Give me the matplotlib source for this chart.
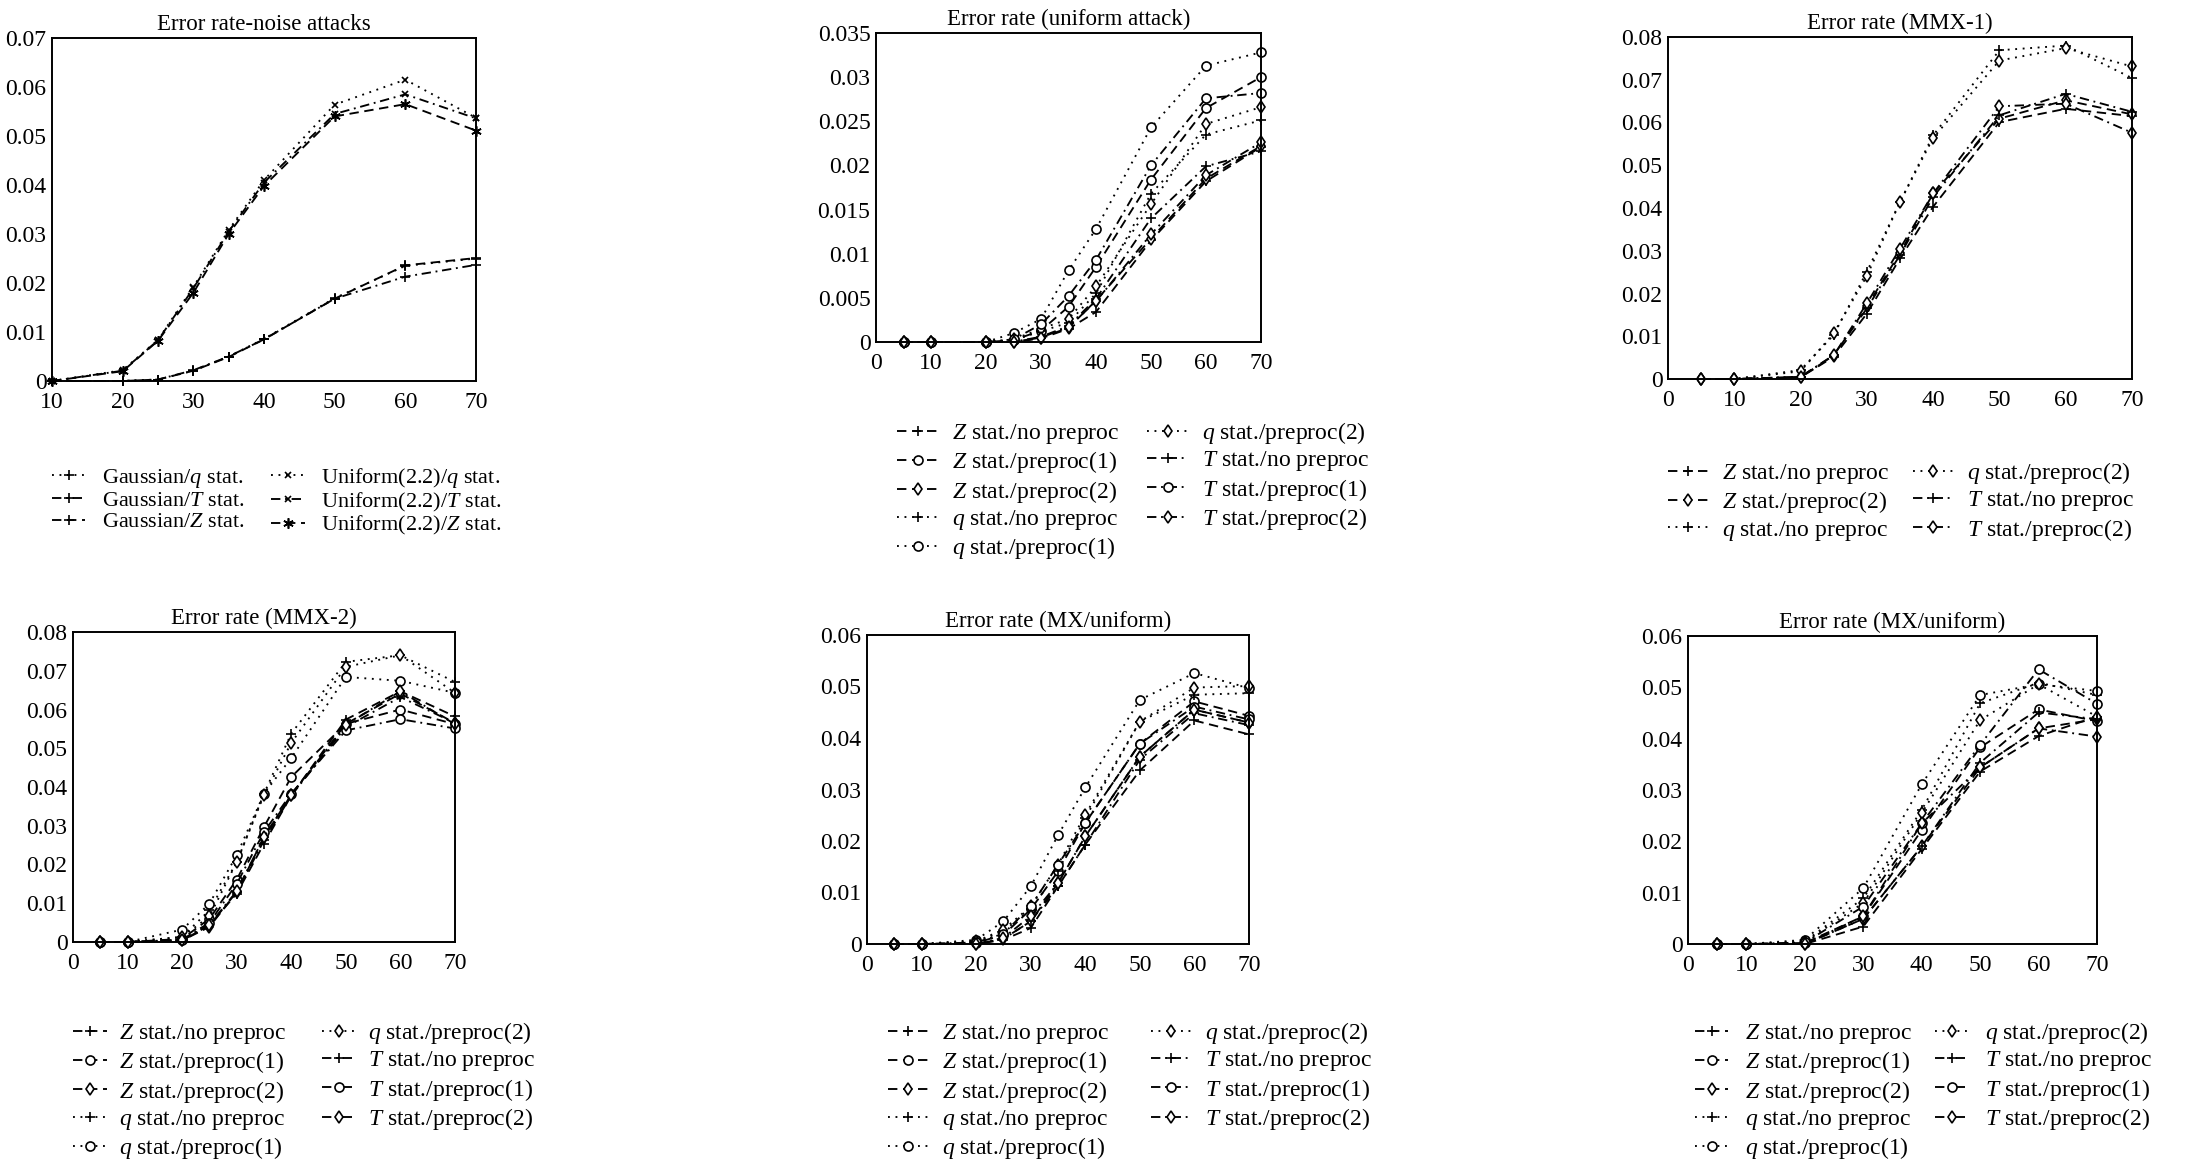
import matplotlib
matplotlib.use("Agg")
import matplotlib.pyplot as plt

plt.rcParams['font.family'] = ['Liberation Serif', 'DejaVu Serif']
plt.rcParams['mathtext.fontset'] = 'custom'
plt.rcParams['mathtext.rm'] = 'Liberation Serif'
plt.rcParams['mathtext.it'] = 'Liberation Serif:italic'
plt.rcParams['font.size'] = 16

W, H = 2196, 1163

# ---- data ----
x_noise = [10, 20, 25, 30, 35, 40, 50, 60, 70]
gauss_q = [0, 0, 0.0003, 0.0021, 0.0050, 0.0086, 0.0169, 0.0235, 0.0250]
gauss_T = [0, 0, 0.0003, 0.0022, 0.0050, 0.0085, 0.0168, 0.0213, 0.0237]
gauss_Z = [0, 0, 0.0003, 0.0021, 0.0049, 0.0085, 0.0168, 0.0236, 0.0251]
unif_q = [0, 0.0022, 0.0084, 0.0192, 0.0308, 0.0410, 0.0564, 0.0615, 0.0537]
unif_T = [0, 0.0021, 0.0083, 0.0189, 0.0305, 0.0405, 0.0545, 0.0585, 0.0536]
unif_Z = [0, 0.0020, 0.0082, 0.0180, 0.0300, 0.0398, 0.0540, 0.0565, 0.0511]

x_full = [5, 10, 20, 25, 30, 35, 40, 50, 60, 70]

# uniform attack
ua_Z_no = [0, 0, 0, 0, 0.0004, 0.0015, 0.0034, 0.0115, 0.0182, 0.0221]
ua_Z_p1 = [0, 0, 0, 0.0002, 0.0013, 0.0040, 0.0085, 0.0184, 0.0265, 0.0300]
ua_Z_p2 = [0, 0, 0, 0, 0.0005, 0.0016, 0.0047, 0.0117, 0.0185, 0.0222]
ua_q_no = [0, 0, 0, 0.0002, 0.0012, 0.0022, 0.0055, 0.0168, 0.0235, 0.0251]
ua_q_p1 = [0, 0, 0, 0.0010, 0.0026, 0.0081, 0.0128, 0.0243, 0.0313, 0.0328]
ua_q_p2 = [0, 0, 0, 0.0003, 0.0015, 0.0026, 0.0063, 0.0156, 0.0247, 0.0266]
ua_T_no = [0, 0, 0, 0, 0.0006, 0.0018, 0.0049, 0.0140, 0.0199, 0.0216]
ua_T_p1 = [0, 0, 0, 0.0003, 0.0020, 0.0052, 0.0093, 0.0200, 0.0276, 0.0282]
ua_T_p2 = [0, 0, 0, 0, 0.0005, 0.0017, 0.0046, 0.0122, 0.0189, 0.0226]

# MMX-1
m1_Z_no = [0, 0, 0.0004, 0.0052, 0.0153, 0.0282, 0.0403, 0.0601, 0.0632, 0.0615]
m1_Z_p2 = [0, 0, 0.0005, 0.0054, 0.0170, 0.0295, 0.0434, 0.0609, 0.0652, 0.0619]
m1_q_no = [0, 0, 0.0021, 0.0103, 0.0251, 0.0414, 0.0570, 0.0769, 0.0780, 0.0704]
m1_q_p2 = [0, 0, 0.0018, 0.0107, 0.0241, 0.0414, 0.0564, 0.0745, 0.0774, 0.0731]
m1_T_no = [0, 0, 0.0005, 0.0056, 0.0165, 0.0290, 0.0426, 0.0617, 0.0667, 0.0625]
m1_T_p2 = [0, 0, 0.0005, 0.0055, 0.0177, 0.0305, 0.0434, 0.0638, 0.0644, 0.0576]

# MMX-2
m2_Z_no = [0, 0, 0.0004, 0.0043, 0.0125, 0.0254, 0.0378, 0.0574, 0.0647, 0.0582]
m2_Z_p1 = [0, 0, 0.0008, 0.0060, 0.0161, 0.0297, 0.0426, 0.0563, 0.0600, 0.0562]
m2_Z_p2 = [0, 0, 0.0004, 0.0039, 0.0129, 0.0271, 0.0380, 0.0563, 0.0641, 0.0565]
m2_q_no = [0, 0, 0.0013, 0.0082, 0.0206, 0.0383, 0.0538, 0.0723, 0.0740, 0.0671]
m2_q_p1 = [0, 0, 0.0032, 0.0099, 0.0224, 0.0383, 0.0475, 0.0684, 0.0674, 0.0643]
m2_q_p2 = [0, 0, 0.0013, 0.0066, 0.0206, 0.0379, 0.0514, 0.0710, 0.0740, 0.0643]
m2_T_no = [0, 0, 0.0004, 0.0043, 0.0129, 0.0262, 0.0378, 0.0555, 0.0632, 0.0565]
m2_T_p1 = [0, 0, 0.0006, 0.0050, 0.0150, 0.0284, 0.0383, 0.0546, 0.0575, 0.0551]
m2_T_p2 = [0, 0, 0.0005, 0.0045, 0.0131, 0.0271, 0.0380, 0.0560, 0.0647, 0.0562]

# MX/uniform (first)
mx_Z_no = [0, 0, 0, 0.0008, 0.0031, 0.0112, 0.0193, 0.0337, 0.0434, 0.0407]
mx_Z_p1 = [0, 0, 0.0002, 0.0018, 0.0067, 0.0141, 0.0235, 0.0389, 0.0471, 0.0443]
mx_Z_p2 = [0, 0, 0, 0.0010, 0.0044, 0.0118, 0.0209, 0.0364, 0.0455, 0.0430]
mx_q_no = [0, 0, 0.0004, 0.0025, 0.0067, 0.0141, 0.0245, 0.0432, 0.0484, 0.0487]
mx_q_p1 = [0, 0, 0.0008, 0.0044, 0.0112, 0.0211, 0.0304, 0.0474, 0.0526, 0.0497]
mx_q_p2 = [0, 0, 0.0005, 0.0028, 0.0073, 0.0154, 0.0251, 0.0432, 0.0498, 0.0501]
mx_T_no = [0, 0, 0, 0.0010, 0.0044, 0.0112, 0.0193, 0.0358, 0.0448, 0.0425]
mx_T_p1 = [0, 0, 0.0003, 0.0020, 0.0073, 0.0154, 0.0235, 0.0389, 0.0461, 0.0436]
mx_T_p2 = [0, 0, 0, 0.0012, 0.0054, 0.0118, 0.0209, 0.0364, 0.0455, 0.0430]

# MX/uniform (second)
x_mx2 = [5, 10, 20, 30, 40, 50, 60, 70]
mx2_Z_no = [0, 0, 0, 0.0034, 0.0185, 0.0336, 0.0405, 0.0443]
mx2_Z_p1 = [0, 0, 0.0002, 0.0054, 0.0222, 0.0383, 0.0457, 0.0434]
mx2_Z_p2 = [0, 0, 0, 0.0049, 0.0190, 0.0344, 0.0420, 0.0438]
mx2_q_no = [0, 0, 0.0005, 0.0089, 0.0261, 0.0469, 0.0509, 0.0485]
mx2_q_p1 = [0, 0, 0.0008, 0.0109, 0.0311, 0.0485, 0.0506, 0.0493]
mx2_q_p2 = [0, 0, 0.0004, 0.0080, 0.0255, 0.0436, 0.0506, 0.0443]
mx2_T_no = [0, 0, 0, 0.0049, 0.0190, 0.0353, 0.0451, 0.0438]
mx2_T_p1 = [0, 0, 0.0003, 0.0073, 0.0235, 0.0388, 0.0535, 0.0468]
mx2_T_p2 = [0, 0, 0, 0.0054, 0.0235, 0.0344, 0.0420, 0.0404]

# ---- styles ----
DOT = (0, (1, 3))
DASH = (0, (5, 3))
DASHDOT = (0, (5, 2.5, 1, 2.5))
LW = 1.35

LABELS = {
    'Z_no': r'$Z$ stat./no preproc', 'Z_p1': r'$Z$ stat./preproc(1)',
    'Z_p2': r'$Z$ stat./preproc(2)', 'q_no': r'$q$ stat./no preproc',
    'q_p1': r'$q$ stat./preproc(1)', 'q_p2': r'$q$ stat./preproc(2)',
    'T_no': r'$T$ stat./no preproc', 'T_p1': r'$T$ stat./preproc(1)',
    'T_p2': r'$T$ stat./preproc(2)',
}
LS = {'Z': DASH, 'q': DOT, 'T': DASHDOT}
MK = {'no': '+', 'p1': 'o', 'p2': 'd'}


def px_rect(left, right, top, bottom):
    return [left / W, 1 - bottom / H, (right - left) / W, (bottom - top) / H]


def setup_axes(fig, rect, title, xlim, xticks, ylim, yticks):
    ax = fig.add_axes(rect)
    ax.set_xlim(*xlim)
    ax.set_ylim(*ylim)
    ax.set_xticks(xticks)
    ax.set_yticks(yticks)
    ax.set_yticklabels(['%g' % v for v in yticks])
    ax.tick_params(axis='x', length=0, pad=8, labelsize=17)
    ax.tick_params(axis='y', length=0, pad=4, labelsize=17)
    for s in ax.spines.values():
        s.set_linewidth(1.4)
    ax.set_title(title, fontsize=16.5, pad=6)
    return ax


def plot_series(ax, x, series):
    handles = []
    for key, y in series:
        stat, pre = key.split('_')
        h, = ax.plot(x, y, color='black', lw=LW, linestyle=LS[stat],
                     marker=MK[pre], markersize=6.5, markerfacecolor='white',
                     markeredgewidth=1.2, label=LABELS[key], clip_on=False)
        handles.append(h)
    return handles


def add_legend(fig, handles, left, top, size, spacing, hlen, tpad, cspace):
    fig.legend(handles=handles, loc='upper left',
               bbox_to_anchor=(left / W, 1 - top / H), ncol=2, frameon=False,
               fontsize=size, borderaxespad=0, borderpad=0, labelspacing=spacing,
               handlelength=hlen, handletextpad=tpad, columnspacing=cspace,
               numpoints=1)


fig = plt.figure(figsize=(W / 100, H / 100), dpi=100)

# panel 1: noise attacks
ax = setup_axes(fig, px_rect(52, 476, 38, 381), 'Error rate-noise attacks',
                (10, 70), [10, 20, 30, 40, 50, 60, 70],
                (0, 0.07), [0, 0.01, 0.02, 0.03, 0.04, 0.05, 0.06, 0.07])
hs = []
for y, ls, lab in [(gauss_q, DOT, r'Gaussian/$q$ stat.'),
                   (gauss_T, DASHDOT, r'Gaussian/$T$ stat.'),
                   (gauss_Z, DASH, r'Gaussian/$Z$ stat.')]:
    h, = ax.plot(x_noise, y, color='black', lw=LW, linestyle=ls, marker='+',
                 markersize=7.5, markeredgewidth=1.2, label=lab, clip_on=False)
    hs.append(h)
for y, ls, mk, ms, lab in [(unif_q, DOT, 'x', 5, r'Uniform(2.2)/$q$ stat.'),
                           (unif_T, DASHDOT, 'x', 5, r'Uniform(2.2)/$T$ stat.'),
                           (unif_Z, DASH, (6, 2, 0), 7.5, r'Uniform(2.2)/$Z$ stat.')]:
    h, = ax.plot(x_noise, y, color='black', lw=LW, linestyle=ls, marker=mk,
                 markersize=ms, markeredgewidth=1.2, label=lab, clip_on=False)
    hs.append(h)
add_legend(fig, hs, 52, 466, 16, 0.03, 1.5, 0.75, 1.2)

nine = ['Z_no', 'Z_p1', 'Z_p2', 'q_no', 'q_p1', 'q_p2', 'T_no', 'T_p1', 'T_p2']
ticks70 = [0, 10, 20, 30, 40, 50, 60, 70]

# panel 2: uniform attack
ax = setup_axes(fig, px_rect(876, 1261, 33, 342), 'Error rate (uniform attack)',
                (0, 70), ticks70, (0, 0.035),
                [0, 0.005, 0.01, 0.015, 0.02, 0.025, 0.03, 0.035])
hs = plot_series(ax, x_full, list(zip(nine, [ua_Z_no, ua_Z_p1, ua_Z_p2, ua_q_no, ua_q_p1,
                                             ua_q_p2, ua_T_no, ua_T_p1, ua_T_p2])))
add_legend(fig, hs, 897, 420, 17, 0.14, 1.75, 0.6, 1.15)

# panel 3: MMX-1
six = ['Z_no', 'Z_p2', 'q_no', 'q_p2', 'T_no', 'T_p2']
ax = setup_axes(fig, px_rect(1668, 2132, 37, 379), 'Error rate (MMX-1)',
                (0, 70), ticks70, (0, 0.08),
                [0, 0.01, 0.02, 0.03, 0.04, 0.05, 0.06, 0.07, 0.08])
hs = plot_series(ax, x_full, list(zip(six, [m1_Z_no, m1_Z_p2, m1_q_no, m1_q_p2,
                                            m1_T_no, m1_T_p2])))
add_legend(fig, hs, 1668, 460, 17, 0.14, 1.7, 0.6, 1.0)

# panel 4: MMX-2
ax = setup_axes(fig, px_rect(73, 455, 632, 942), 'Error rate (MMX-2)',
                (0, 70), ticks70, (0, 0.08),
                [0, 0.01, 0.02, 0.03, 0.04, 0.05, 0.06, 0.07, 0.08])
hs = plot_series(ax, x_full, list(zip(nine, [m2_Z_no, m2_Z_p1, m2_Z_p2, m2_q_no, m2_q_p1,
                                             m2_q_p2, m2_T_no, m2_T_p1, m2_T_p2])))
add_legend(fig, hs, 73, 1020, 17, 0.14, 1.45, 0.5, 1.5)

# panel 5: MX/uniform
ax = setup_axes(fig, px_rect(867, 1249, 635, 944), 'Error rate (MX/uniform)',
                (0, 70), ticks70, (0, 0.06),
                [0, 0.01, 0.02, 0.03, 0.04, 0.05, 0.06])
hs = plot_series(ax, x_full, list(zip(nine, [mx_Z_no, mx_Z_p1, mx_Z_p2, mx_q_no, mx_q_p1,
                                             mx_q_p2, mx_T_no, mx_T_p1, mx_T_p2])))
add_legend(fig, hs, 888, 1020, 17, 0.14, 1.7, 0.6, 1.75)

# panel 6: MX/uniform (second run)
ax = setup_axes(fig, px_rect(1688, 2097, 636, 944), 'Error rate (MX/uniform)',
                (0, 70), ticks70, (0, 0.06),
                [0, 0.01, 0.02, 0.03, 0.04, 0.05, 0.06])
hs = plot_series(ax, x_mx2, list(zip(nine, [mx2_Z_no, mx2_Z_p1, mx2_Z_p2, mx2_q_no, mx2_q_p1,
                                            mx2_q_p2, mx2_T_no, mx2_T_p1, mx2_T_p2])))
add_legend(fig, hs, 1695, 1020, 17, 0.14, 1.4, 0.7, 1.0)

fig.savefig('out.png', dpi=100)
